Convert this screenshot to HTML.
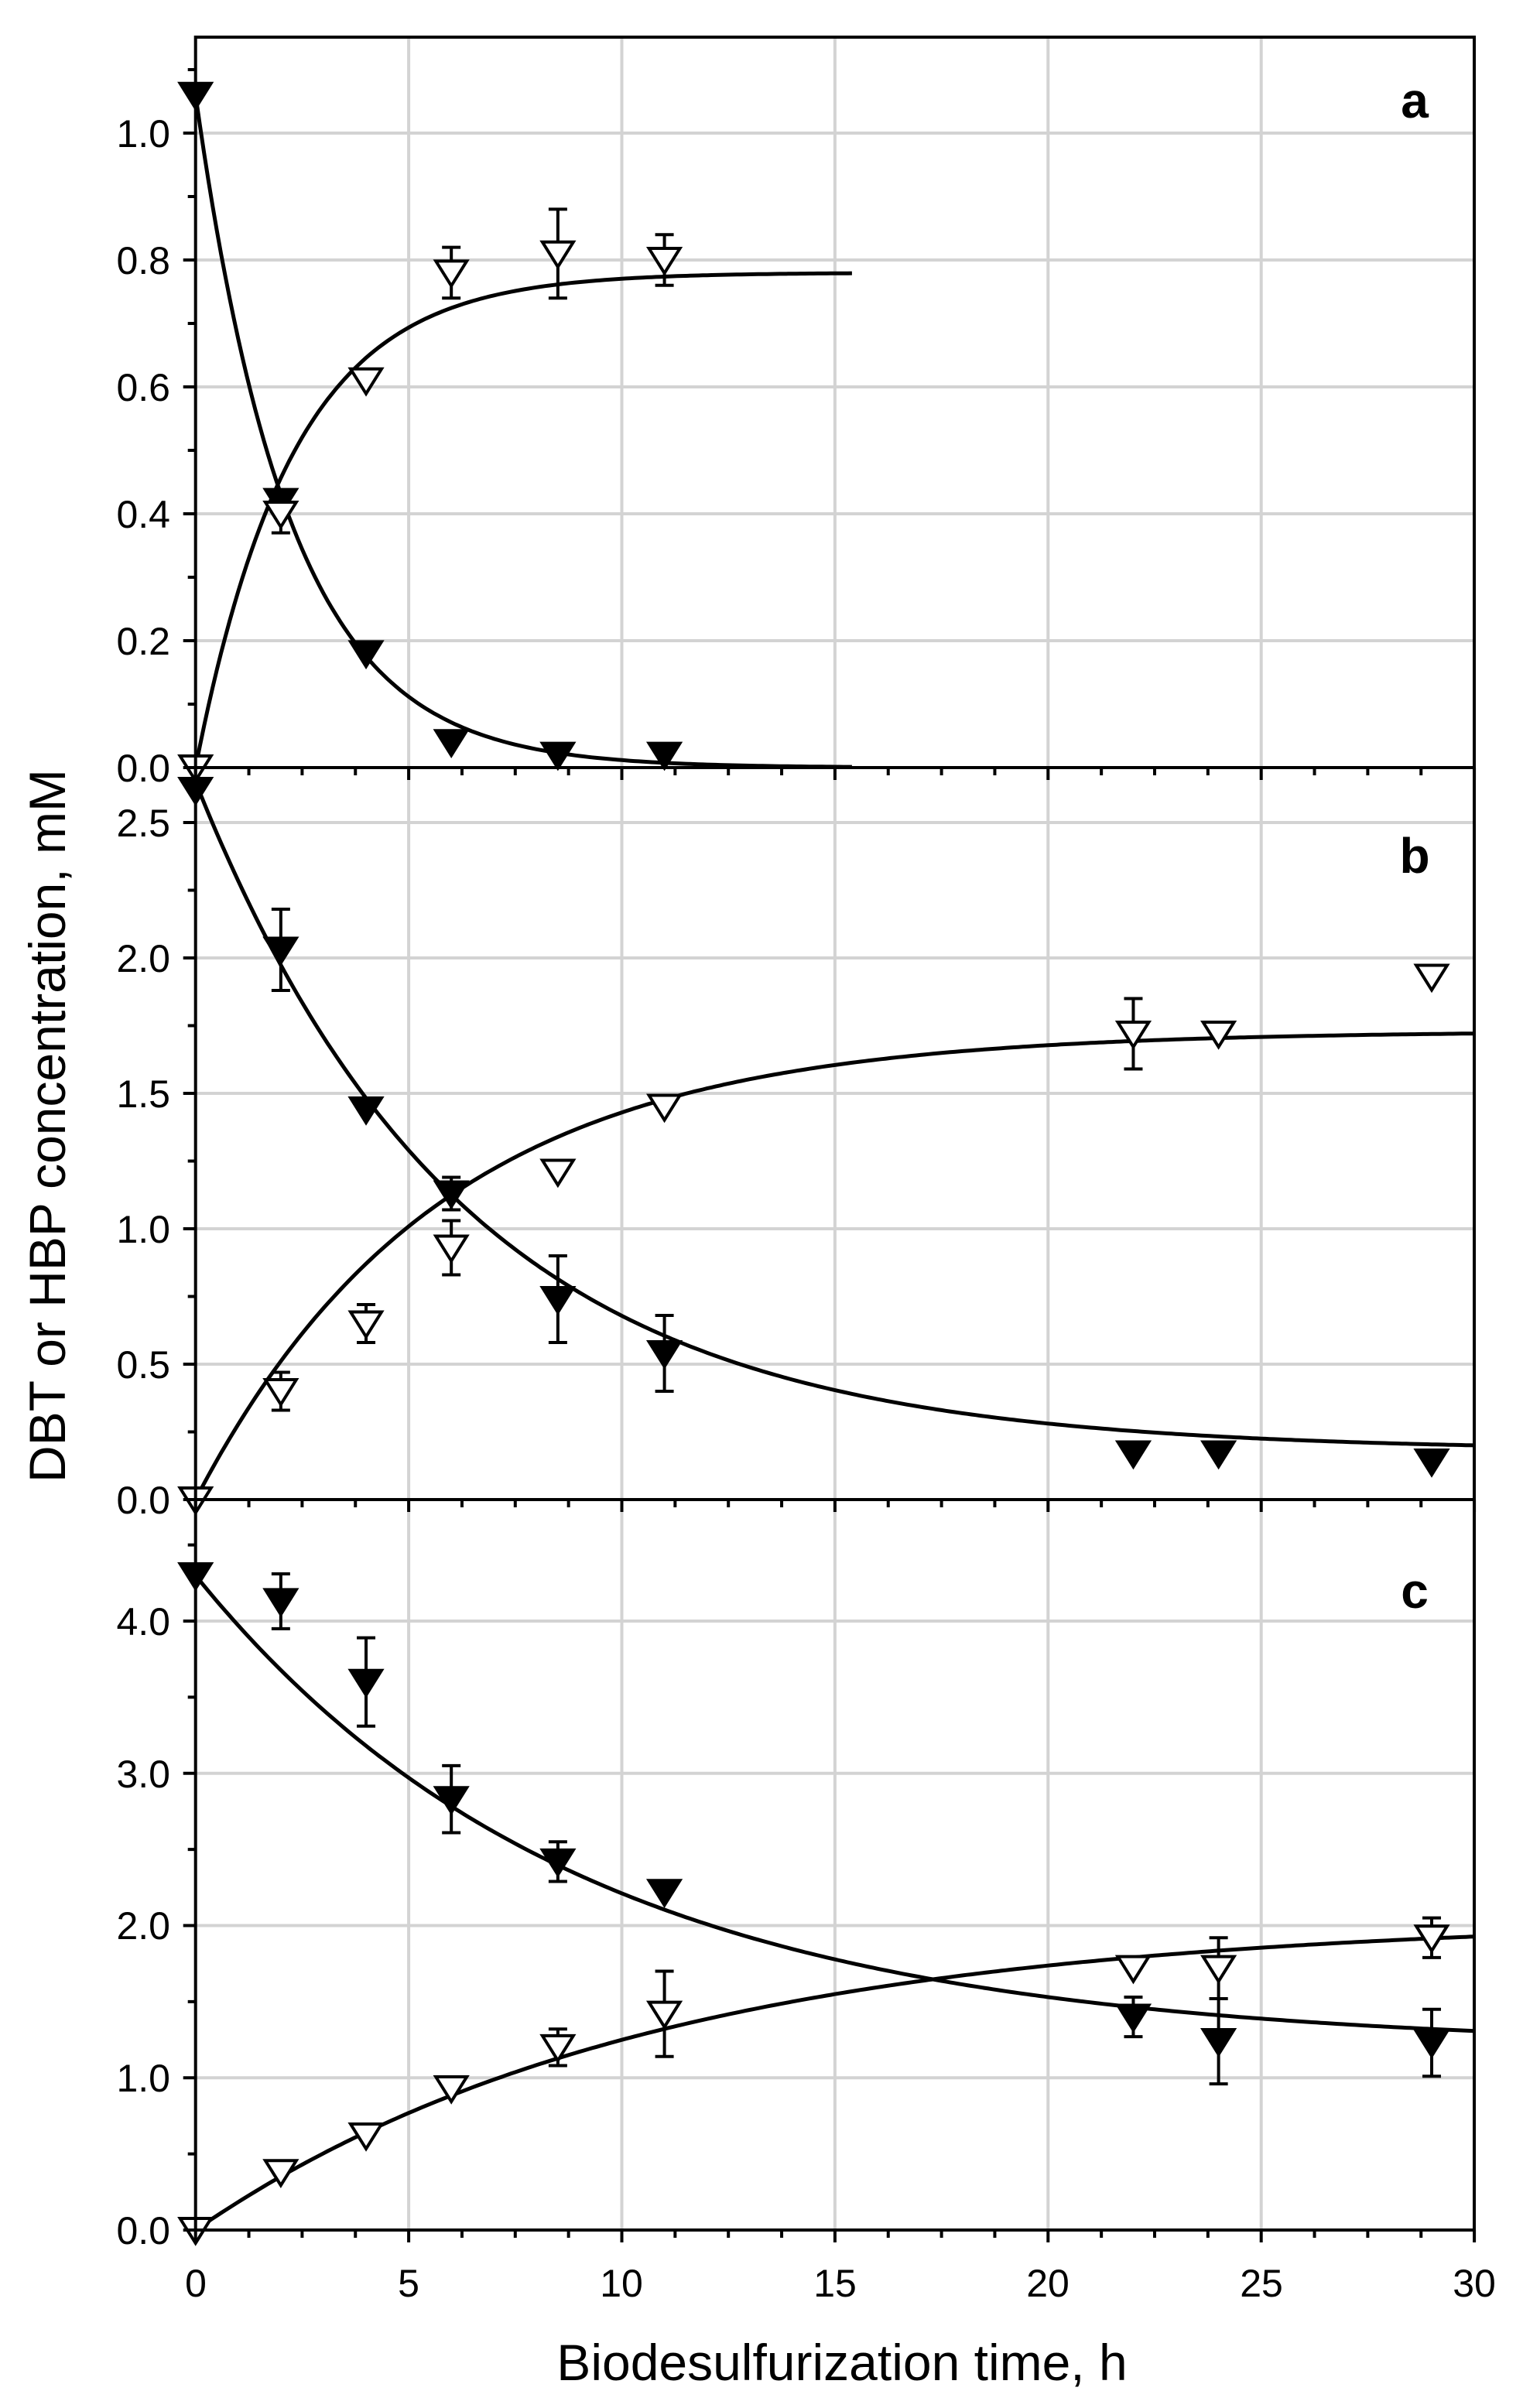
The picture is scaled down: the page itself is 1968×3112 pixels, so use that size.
<!DOCTYPE html>
<html><head><meta charset="utf-8"><style>
html,body{margin:0;padding:0;background:#fff;}
svg{display:block;}
text{font-family:"Liberation Sans",Arial,sans-serif;fill:#000;}
</style></head><body>
<svg id="s" width="1968" height="3112" viewBox="0 0 1968 3112" xmlns="http://www.w3.org/2000/svg">
<g id="grid"></g><g id="curves"></g><g id="pts"></g><g id="axes"></g>
<g font-size="50" text-anchor="end">
<text x="220" y="1010">0.0</text><text x="220" y="846">0.2</text><text x="220" y="682">0.4</text><text x="220" y="518">0.6</text><text x="220" y="354">0.8</text><text x="220" y="190">1.0</text>
<text x="220" y="1956">0.0</text><text x="220" y="1781">0.5</text><text x="220" y="1606">1.0</text><text x="220" y="1431">1.5</text><text x="220" y="1256">2.0</text><text x="220" y="1081">2.5</text>
<text x="220" y="2900">0.0</text><text x="220" y="2703">1.0</text><text x="220" y="2506">2.0</text><text x="220" y="2310">3.0</text><text x="220" y="2113">4.0</text>
</g>
<g font-size="50" text-anchor="middle">
<text x="253" y="2968">0</text><text x="528" y="2968">5</text><text x="803" y="2968">10</text><text x="1079" y="2968">15</text><text x="1354" y="2968">20</text><text x="1630" y="2968">25</text><text x="1905" y="2968">30</text>
</g>
<text x="1088" y="3076" font-size="66" text-anchor="middle">Biodesulfurization time, h</text>
<text transform="translate(84,1455) rotate(-90)" font-size="66" text-anchor="middle">DBT or HBP concentration, mM</text>
<g font-size="64" font-weight="bold" text-anchor="middle">
<text x="1828" y="152">a</text><text x="1828" y="1128">b</text><text x="1828" y="2078">c</text>
</g>
</svg>
<script>
var NS="http://www.w3.org/2000/svg";
function el(p,t,a){var e=document.createElementNS(NS,t);for(var k in a)e.setAttribute(k,a[k]);document.getElementById(p).appendChild(e);return e;}
var X0=252.7,XS=55.08,XR=1905;
function X(t){return X0+t*XS;}
var P=[
 {top:48,bot:992,z:992,s:820,maj:[0.2,0.4,0.6,0.8,1.0],min:0.1,ymax:1.151},
 {top:992,bot:1938,z:1938,s:350,maj:[0.5,1,1.5,2,2.5],min:0.25,ymax:2.70},
 {top:1938,bot:2882,z:2882,s:196.75,maj:[1,2,3,4],min:0.5,ymax:4.8}
];
P.forEach(function(p,i){
 function Y(v){return p.z-v*p.s;}
 p.Y=Y;
 [5,10,15,20,25].forEach(function(t){el("grid","line",{x1:X(t),x2:X(t),y1:p.top,y2:p.bot,stroke:"#d3d3d3","stroke-width":4});});
 p.maj.forEach(function(v){el("grid","line",{x1:X0,x2:XR,y1:Y(v),y2:Y(v),stroke:"#d3d3d3","stroke-width":4});});
 el("axes","rect",{x:X0,y:p.top,width:XR-X0,height:p.bot-p.top,fill:"none",stroke:"#000","stroke-width":4});
 for(var v=0;v<=p.ymax+1e-6;v+=p.min){var major=p.maj.some(function(m){return Math.abs(m-v)<1e-6})||v<1e-6;
   el("axes","line",{x1:X0-(major?16:10),x2:X0,y1:Y(v),y2:Y(v),stroke:"#000","stroke-width":4});}
 for(var t=0;t<=30.01;t+=1.25){var mj=Math.abs(t%5)<1e-6;
   el("axes","line",{x1:X(t),x2:X(t),y1:p.bot,y2:p.bot+(mj?16:10),stroke:"#000","stroke-width":4});}
});
function curve(pi,f,t1){var p=P[pi],d="";for(var t=0;t<=t1+1e-6;t+=0.1){d+=(t?"L":"M")+X(t).toFixed(1)+","+p.Y(f(t)).toFixed(1);}
 el("curves","path",{d:d,fill:"none",stroke:"#000","stroke-width":5});}
curve(0,function(t){return 1.06*Math.exp(-0.45*t);},15.4);
curve(0,function(t){return 0.78*(1-Math.exp(-0.44*t));},15.4);
curve(1,function(t){return 0.18+2.47*Math.exp(-0.16*t);},30);
curve(1,function(t){return 1.73*(1-Math.exp(-0.175*t));},30);
curve(2,function(t){return 1.2+3.1*Math.exp(-0.112*t);},30);
curve(2,function(t){return 2.05*(1-Math.exp(-0.094*t));},30);
function pt(pi,t,v,e,filled){var p=P[pi],x=X(t),y=p.Y(v);
 if(e){var y1=p.Y(v+e),y2=p.Y(v-e);
  el("pts","line",{x1:x,x2:x,y1:y1,y2:y2,stroke:"#000","stroke-width":4});
  [y1,y2].forEach(function(yy){el("pts","line",{x1:x-12,x2:x+12,y1:yy,y2:yy,stroke:"#000","stroke-width":4});});}
 el("pts","path",{d:"M"+(x-20)+","+(y-15)+"L"+(x+20)+","+(y-15)+"L"+x+","+(y+17)+"Z",fill:filled?"#000":"#fff",stroke:"#000","stroke-width":4,"stroke-linejoin":"miter"});}
[[0,1.06],[2,0.42],[4,0.18],[6,0.04],[8.5,0.02],[11,0.02]].forEach(function(a){pt(0,a[0],a[1],0,1);});
[[0,0,0],[2,0.40,0.03],[4,0.61,0],[6,0.78,0.04],[8.5,0.81,0.07],[11,0.80,0.04]].forEach(function(a){pt(0,a[0],a[1],a[2],0);});
[[0,2.62,0],[2,2.03,0.15],[4,1.44,0],[6,1.13,0.06],[8.5,0.74,0.16],[11,0.54,0.14],[22,0.17,0],[24,0.17,0],[29,0.14,0]].forEach(function(a){pt(1,a[0],a[1],a[2],1);});
[[0,0,0],[2,0.40,0.07],[4,0.65,0.07],[6,0.93,0.1],[8.5,1.21,0],[11,1.45,0],[22,1.72,0.13],[24,1.72,0],[29,1.93,0]].forEach(function(a){pt(1,a[0],a[1],a[2],0);});
[[0,4.3,0],[2,4.13,0.18],[4,3.6,0.29],[6,2.83,0.22],[8.5,2.42,0.13],[11,2.22,0],[22,1.4,0.13],[24,1.24,0.28],[29,1.23,0.22]].forEach(function(a){pt(2,a[0],a[1],a[2],1);});
[[0,0,0],[2,0.38,0],[4,0.62,0],[6,0.93,0],[8.5,1.2,0.12],[11,1.42,0.28],[22,1.72,0],[24,1.72,0.2],[29,1.92,0.13]].forEach(function(a){pt(2,a[0],a[1],a[2],0);});
</script>
</body></html>
